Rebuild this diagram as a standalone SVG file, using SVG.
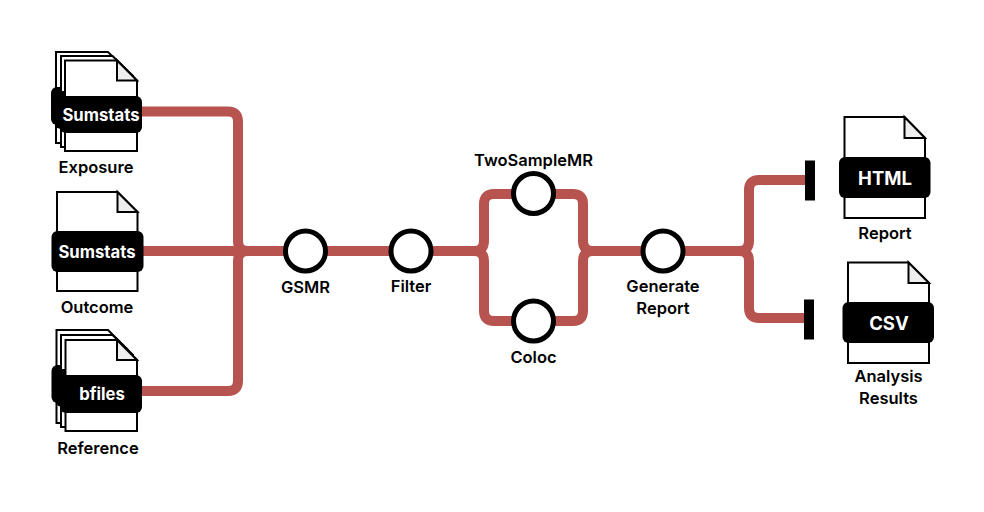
<svg xmlns="http://www.w3.org/2000/svg" width="984" height="512" viewBox="0 0 984 512">
<style>
.doc{fill:#fff;stroke:#000;stroke-width:2}
.docs{fill:#fff;stroke:#000;stroke-width:2}
.fold{fill:#eee;stroke:#000;stroke-width:2;stroke-linejoin:miter}
.tag{fill:#000}
.tagtext{font-family:Inter,"Noto Sans",sans-serif;font-weight:700;font-size:16.700px;fill:#fff;text-anchor:middle}
.big{font-size:18.500px}
.label{font-family:Inter,"Noto Sans",sans-serif;font-weight:600;font-size:16.500px;fill:#000;text-anchor:middle}
.edge{fill:none;stroke:#b85450;stroke-width:10}
.step{fill:#fff;stroke:#000;stroke-width:5}
.stop{fill:#000}
</style>
<rect width="984" height="512" fill="#fff"/>
<g id="connectors">
<path class="edge" d="M140 111.500H228Q238 111.500 238 121.500V241Q238 251 248 251H285"/>
<path class="edge" d="M140 251H285"/>
<path class="edge" d="M140 391H228Q238 391 238 381V261Q238 251 248 251H285"/>
<path class="edge" d="M326 251H390"/>
<path class="edge" d="M432 251H474Q484 251 484 241V204Q484 194 494 194H513"/>
<path class="edge" d="M432 251H474Q484 251 484 261V311Q484 321 494 321H513"/>
<path class="edge" d="M554 194H573Q583 194 583 204V241Q583 251 593 251H642"/>
<path class="edge" d="M554 321H573Q583 321 583 311V261Q583 251 593 251H642"/>
<path class="edge" d="M684 251H739Q749 251 749 241V190Q749 180 759 180H806"/>
<path class="edge" d="M684 251H739Q749 251 749 261V308Q749 318 759 318H806"/>
<rect class="stop" x="805" y="160.500" width="10" height="40"/>
<rect class="stop" x="804" y="299.500" width="10" height="40"/>
</g>
<g id="exposure">
<path class="docs" d="M56 52H108L128 72V143H56Z"/>
<rect class="tag" x="51" y="87" width="82" height="38" rx="6"/>
<path class="docs" d="M61 56H112.500L133 76V147H61Z"/>
<rect class="tag" x="55" y="91" width="82" height="38" rx="6"/>
<path class="doc" d="M65 60.500H117L137 80.500V151H65Z"/>
<path class="fold" d="M117 60.500V80.500H137Z"/>
<rect class="tag" x="60" y="96" width="82" height="37" rx="6"/>
<text class="tagtext" x="101" y="121">Sumstats</text>
<text class="label" x="96" y="173">Exposure</text>
</g>
<g id="outcome">
<path class="doc" d="M57 192H117.500L137.500 212V291H57Z"/>
<path class="fold" d="M117.500 192V212H137.500Z"/>
<rect class="tag" x="51.500" y="231" width="92" height="41" rx="6"/>
<text class="tagtext" x="97" y="258">Sumstats</text>
<text class="label" x="97" y="313">Outcome</text>
</g>
<g id="reference">
<path class="docs" d="M56.500 330H108L128 350V423H56.500Z"/>
<rect class="tag" x="51.500" y="365" width="82" height="38" rx="6"/>
<path class="docs" d="M61 335H112.500L133 355V427H61Z"/>
<rect class="tag" x="56" y="369" width="82" height="38" rx="6"/>
<path class="doc" d="M65.500 340H117L137 360V431H65.500Z"/>
<path class="fold" d="M117 340V360H137Z"/>
<rect class="tag" x="60" y="375" width="82" height="38" rx="6"/>
<text class="tagtext" x="102" y="400">bfiles</text>
<text class="label" x="98" y="454">Reference</text>
</g>
<g id="gsmr"><circle class="step" cx="305.500" cy="251" r="20"/><text class="label" x="305.500" y="293">GSMR</text></g>
<g id="filter"><circle class="step" cx="411" cy="251" r="20"/><text class="label" x="411" y="292">Filter</text></g>
<g id="twosamplemr"><circle class="step" cx="533.500" cy="193.500" r="20"/><text class="label" x="533.500" y="166">TwoSampleMR</text></g>
<g id="coloc"><circle class="step" cx="533.500" cy="321" r="20"/><text class="label" x="533.500" y="363">Coloc</text></g>
<g id="generate-report"><circle class="step" cx="663" cy="251" r="20"/><text class="label" x="663" y="292">Generate</text><text class="label" x="663" y="314">Report</text></g>
<g id="html-report">
<path class="doc" d="M844.500 117H904.500L925 138V218H844.500Z"/>
<path class="fold" d="M904.500 117V138H925Z"/>
<rect class="tag" x="839" y="157" width="91.500" height="41" rx="6"/>
<text class="tagtext big" x="885" y="185">HTML</text>
<text class="label" x="885" y="239">Report</text>
</g>
<g id="csv-results">
<path class="doc" d="M848 262.500H908.500L929 283V363H848Z"/>
<path class="fold" d="M908.500 262.500V283H929Z"/>
<rect class="tag" x="842.500" y="302" width="91.500" height="41" rx="6"/>
<text class="tagtext big" x="889" y="330">CSV</text>
<text class="label" x="888.500" y="382">Analysis</text>
<text class="label" x="888.500" y="404">Results</text>
</g>
</svg>
